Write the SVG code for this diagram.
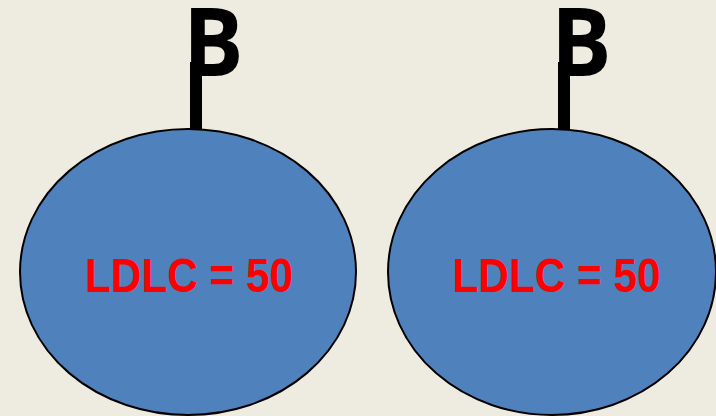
<svg xmlns="http://www.w3.org/2000/svg" width="716" height="416" viewBox="0 0 716 416">
  <style>
    .node { fill: #4F81BD; stroke: #000; stroke-width: 2; }
    .val { font-family: "Liberation Sans", Arial, sans-serif; font-weight: bold; font-size: 49px; fill: #FF0000; text-anchor: middle; }
    .lbl { font-family: "Open Sans", "Liberation Sans", Arial, sans-serif; font-weight: bold; font-size: 95px; fill: #000; }
    .stem { stroke: #000; stroke-width: 12; fill: none; }
  </style>
  <rect width="716" height="416" fill="#EEEBE0"/>
  <g id="connectors">
    <line class="stem" x1="196" y1="62" x2="196" y2="130"/>
    <line class="stem" x1="564" y1="62" x2="564" y2="130"/>
  </g>
  <g id="node-left">
    <ellipse class="node" cx="188" cy="272" rx="168" ry="143"/>
    <text class="val" x="189" y="292" textLength="208" lengthAdjust="spacingAndGlyphs">LDLC = 50</text>
    <text class="lbl" transform="translate(183,76) scale(0.95,1)">B</text>
  </g>
  <g id="node-right">
    <ellipse class="node" cx="552" cy="272" rx="164" ry="143"/>
    <text class="val" x="556.5" y="292" textLength="208" lengthAdjust="spacingAndGlyphs">LDLC = 50</text>
    <text class="lbl" transform="translate(551,76) scale(0.95,1)">B</text>
  </g>
</svg>
